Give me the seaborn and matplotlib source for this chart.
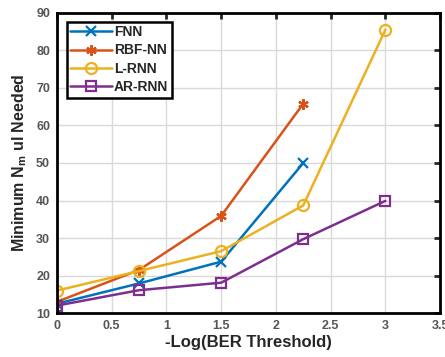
import numpy as np
import pandas as pd
import matplotlib
matplotlib.use("Agg")
import matplotlib.pyplot as plt
import seaborn as sns

series_names = ["FNN", "RBF-NN", "L-RNN", "AR-RNN"]
x_fnn = [0, 0.75, 1.5, 2.25]
y_fnn = [12.5, 17.9, 23.7, 50.0]
x_rbf = [0, 0.75, 1.5, 2.25]
y_rbf = [13.0, 21.5, 35.9, 65.8]
x_lrnn = [0, 0.75, 1.5, 2.25, 3]
y_lrnn = [16.0, 21.2, 26.5, 38.7, 85.5]
x_arrnn = [0, 0.75, 1.5, 2.25, 3]
y_arrnn = [12.0, 16.1, 18.1, 29.7, 39.9]

x_ticks = [0, 0.5, 1, 1.5, 2, 2.5, 3, 3.5]
y_ticks = [10, 20, 30, 40, 50, 60, 70, 80, 90]

colors = ["#0072BD", "#D95319", "#EDB120", "#7E2F8E"]
markers = ["x", (6, 2, 0), "o", "s"]
msizes = [6.5, 7.5, 8, 7]

frames = []
for name, xs, ys in zip(series_names, [x_fnn, x_rbf, x_lrnn, x_arrnn],
                        [y_fnn, y_rbf, y_lrnn, y_arrnn]):
    frames.append(pd.DataFrame({"x": xs, "y": ys, "model": name}))
df = pd.concat(frames, ignore_index=True)

sns.set_style("white")
plt.rcParams["font.family"] = ["Liberation Sans", "DejaVu Sans"]
plt.rcParams["mathtext.fontset"] = "custom"
plt.rcParams["mathtext.rm"] = "Liberation Sans:bold"
plt.rcParams["mathtext.default"] = "rm"

fig = plt.figure(figsize=(4.45, 3.57), dpi=100)
ax = fig.add_axes([0.128, 0.123, 0.861, 0.841])

sns.lineplot(data=df, x="x", y="y", hue="model", hue_order=series_names,
             palette=colors, errorbar=None, legend=False, linewidth=1.8,
             ax=ax, sort=True)

for line, c, m, ms in zip(ax.lines[:4], colors, markers, msizes):
    line.set_marker(m)
    line.set_markeredgecolor(c)
    line.set_markerfacecolor("none")
    line.set_markeredgewidth(1.6)
    line.set_markersize(ms)

ax.set_xlim(0, 3.5)
ax.set_ylim(10, 90)
ax.set_xticks(x_ticks)
ax.set_xticklabels([f"{t:g}" for t in x_ticks])
ax.set_yticks(y_ticks)
ax.grid(True, color="#d9d9d9", linewidth=1.0)
ax.set_axisbelow(True)
for s in ax.spines.values():
    s.set_color("black")
    s.set_linewidth(2.0)
ax.tick_params(direction="in", length=4, width=2, top=True, right=True,
               labelsize=9, labelcolor="#555555", pad=5)
for lab in ax.get_xticklabels() + ax.get_yticklabels():
    lab.set_fontweight("bold")

ax.set_xlabel("-Log(BER Threshold)", fontsize=12, fontweight="bold", color="#262626", labelpad=2)
ax.set_ylabel(r"Minimum N$_{m}$ ul Needed", fontsize=11.5, fontweight="bold", color="#262626", labelpad=5)

leg = ax.legend(ax.lines[:4], series_names, loc="upper left",
                bbox_to_anchor=(0.015, 0.985), frameon=True, fancybox=False,
                prop={"weight": "bold", "size": 10}, handlelength=3.0,
                borderpad=0.25, labelspacing=0.32, handletextpad=0.15,
                borderaxespad=0.3)
leg.get_frame().set_edgecolor("black")
leg.get_frame().set_linewidth(1.8)
leg.get_frame().set_alpha(1.0)

fig.savefig("out.png", dpi=100)
